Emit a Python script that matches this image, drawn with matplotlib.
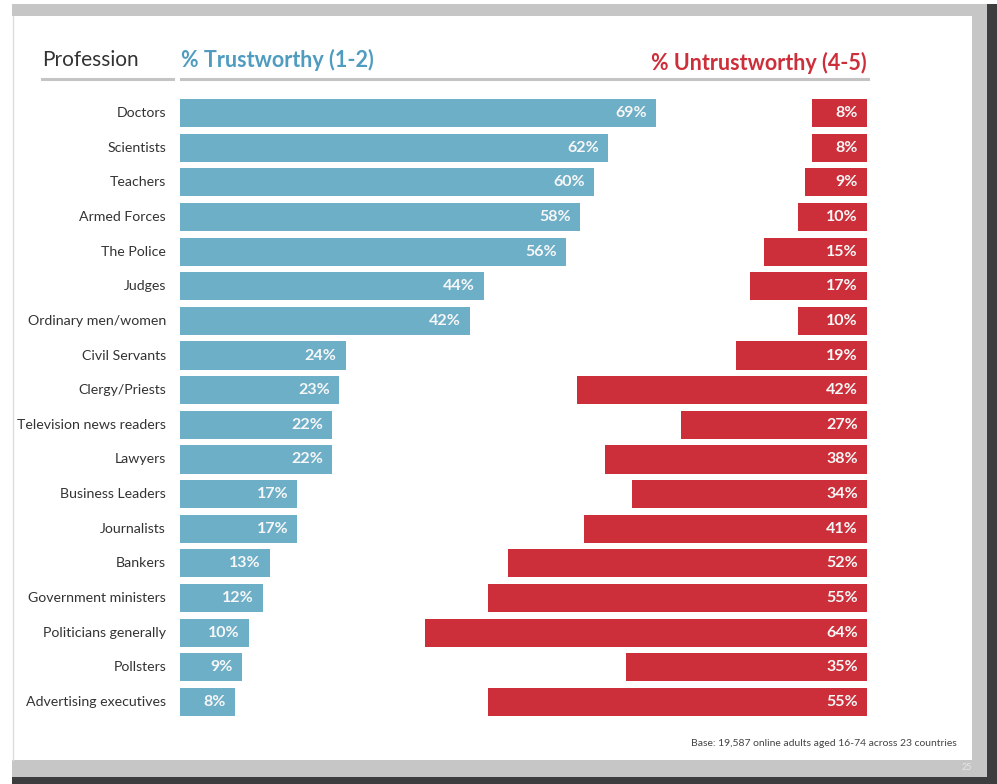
import matplotlib
matplotlib.use("Agg")
import matplotlib.pyplot as plt
from matplotlib.patches import Rectangle
from matplotlib.lines import Line2D

plt.rcParams['font.family'] = ['Lato', 'DejaVu Sans']

professions = ["Doctors", "Scientists", "Teachers", "Armed Forces", "The Police", "Judges",
               "Ordinary men/women", "Civil Servants", "Clergy/Priests", "Television news readers",
               "Lawyers", "Business Leaders", "Journalists", "Bankers", "Government ministers",
               "Politicians generally", "Pollsters", "Advertising executives"]
trustworthy = [69, 62, 60, 58, 56, 44, 42, 24, 23, 22, 22, 17, 17, 13, 12, 10, 9, 8]
untrustworthy = [8, 8, 9, 10, 15, 17, 10, 19, 42, 27, 38, 34, 41, 52, 55, 64, 35, 55]

W, H = 997, 784
fig = plt.figure(figsize=(W / 100, H / 100), dpi=100)
fig.patch.set_facecolor('white')

LG = '#c6c6c6'
DG = '#3d3d3f'

def px_rect(x0, y0, x1, y1, color):
    fig.patches.append(Rectangle((x0 / W, 1 - y1 / H), (x1 - x0) / W, (y1 - y0) / H,
                                 transform=fig.transFigure, facecolor=color, edgecolor='none', zorder=0))

# page frame
px_rect(12, 4, 987, 16, LG)
px_rect(972, 16, 987, 777, LG)
px_rect(12, 760, 987, 777, LG)
px_rect(987, 4, 997, 784, DG)
px_rect(12, 777, 997, 784, DG)
fig.lines.append(Line2D([12.5 / W, 12.5 / W], [1 - 760 / H, 1 - 16 / H], transform=fig.transFigure,
                        color='#dddddd', lw=1))

# axes
ax_left, ax_right = 180, 867
row_top, row_bot = 113, 702
n = len(professions)
step = (row_bot - row_top) / (n - 1)
y_top = row_top - step / 2
y_bot = row_bot + step / 2
ax = fig.add_axes([ax_left / W, 1 - y_bot / H, (ax_right - ax_left) / W, (y_bot - y_top) / H])
XMAX = (ax_right - ax_left) / 6.9
ax.set_xlim(0, XMAX)
ax.set_ylim(n - 0.5, -0.5)
ax.axis('off')

BLUE = '#6eafc8'
RED = '#cd2f3a'
ys = list(range(n))
ax.barh(ys, trustworthy, height=0.81, color=BLUE, left=0)
ax.barh(ys, untrustworthy, height=0.81, color=RED, left=[XMAX - v for v in untrustworthy])

pad = 9 / 6.9
for i, (t, u) in enumerate(zip(trustworthy, untrustworthy)):
    ax.text(t - pad, i, f"{t}%", ha='right', va='center', color='#f7f7f7', fontsize=11.5, fontweight='bold')
    ax.text(XMAX - pad, i, f"{u}%", ha='right', va='center', color='#f7f7f7', fontsize=11.5, fontweight='bold')
    ax.text(-14 / 6.9, i, professions[i], ha='right', va='center', color='#333333', fontsize=10.2,
            clip_on=False)

# headers
fig.text(42 / W, 1 - 60 / H, "Profession", ha='left', va='center', fontsize=15, color='#333333')
fig.text(181 / W, 1 - 60 / H, "% Trustworthy (1-2)", ha='left', va='center', fontsize=15.5,
         fontweight='bold', color='#4f9cc0')
fig.text(867 / W, 1 - 63 / H, "% Untrustworthy (4-5)", ha='right', va='center', fontsize=15.5,
         fontweight='bold', color='#cd2f3a')
for x0, x1 in [(42, 173), (181, 868)]:
    fig.lines.append(Line2D([x0 / W, x1 / W], [1 - 78.5 / H, 1 - 78.5 / H], transform=fig.transFigure,
                            color='#c4c4c4', lw=2.2))

fig.text(957 / W, 1 - 744 / H, "Base: 19,587 online adults aged 16-74 across 23 countries",
         ha='right', va='center', fontsize=7.5, color='#444444')
fig.text(967 / W, 1 - 768 / H, "25", ha='center', va='center', fontsize=6.5, color='#e6e6e6')

fig.savefig('out.png', dpi=100, facecolor='white')
